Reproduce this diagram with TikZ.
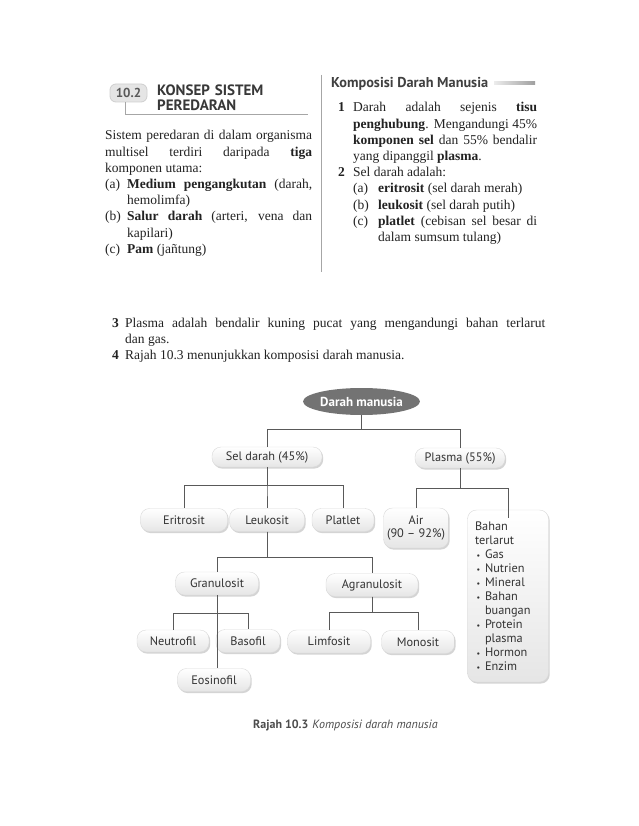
\documentclass[tikz,border=0pt]{standalone}
\usepackage{fontspec}
\setmainfont{Liberation Serif}
\newfontfamily\labelfont{PT Sans}
\usepackage{tikz}
\usetikzlibrary{shapes.geometric,shadows,positioning}
\definecolor{pageink}{HTML}{222222}
\definecolor{boxink}{HTML}{333333}
\definecolor{linkgray}{HTML}{595959}
\definecolor{ovalgray}{HTML}{737373}
\newcommand{\bodysize}{\fontsize{13.5}{16.2}\selectfont}
% numbered paragraph with hanging label
\newcommand{\numitem}[3]{\hangindent=#1\hangafter=1\noindent\makebox[#1][l]{#2}#3\par}
% lettered sub item under a numbered one
\newcommand{\subpart}[2]{\hangindent=40pt\hangafter=1\noindent\hspace*{15pt}\makebox[25pt][l]{#1}#2\par}
\newcommand{\blt}{\makebox[10pt][l]{\hspace{1.5pt}{\fontsize{8}{8}\selectfont\textbullet}}}

\begin{document}
\begin{tikzpicture}[x=1pt,y=-1pt,
  body/.style={anchor=base west, inner sep=0pt, align=justify, text=pageink, font=\bodysize},
  head/.style={anchor=base west, inner sep=0pt, align=left, text=black!78,
               font=\labelfont\bfseries\fontsize{15}{15}\selectfont},
  secbox/.style={rounded corners=6pt, fill=gray!20, draw=gray!38, line width=0.8pt,
                 minimum width=37pt, minimum height=18pt, inner sep=0pt, text=black!65,
                 font=\labelfont\bfseries\fontsize{13}{13}\selectfont},
  rule/.style={draw=gray!70, line width=0.8pt},
  oval/.style={ellipse, fill=ovalgray, text=white, minimum width=103pt, minimum height=27pt,
               inner sep=0pt, font=\labelfont\bfseries\fontsize{13}{14}\selectfont},
  pill/.style={rounded corners=9pt, draw=gray!30, top color=white, bottom color=gray!20,
               drop shadow={shadow xshift=1.2pt, shadow yshift=-1.6pt, fill=gray!60, opacity=.55},
               text=boxink, font=\labelfont\fontsize{12.3}{14}\selectfont,
               minimum height=23pt, inner sep=2pt, minimum width=#1},
  link/.style={draw=linkgray, line width=0.8pt}]
\fill[white] (0,0) rectangle (638,826);
\useasboundingbox (0,0) rectangle (638,826);

% left column
\node[secbox] (sec) at (128.5,93) {10.2};
\node[head, text width=160pt] (title) at (157,96) {KONSEP SISTEM\\PEREDARAN};
\coordinate (ruleend) at (308,114);
\draw[rule] ([xshift=-3.5pt]sec.south) |- (ruleend);
\node[body, text width=207pt] (intro) at (105,140) {%
  Sistem peredaran di dalam organisma\linebreak multisel terdiri daripada \textbf{tiga}\linebreak komponen utama:\par
  \numitem{22pt}{(a)}{\textbf{Medium pengangkutan} (darah,\linebreak hemolimfa)}
  \numitem{22pt}{(b)}{\textbf{Salur darah} (arteri, vena dan\linebreak kapilari)}
  \numitem{22pt}{(c)}{\textbf{Pam} (jañtung)}};

% right column
\draw[rule] (321,75) -- (321,272);
\node[anchor=base west, inner sep=0pt, text=black!75,
      font=\labelfont\bfseries\fontsize{14.3}{14}\selectfont] (komp) at (331,88) {Komposisi Darah Manusia};
\shade[left color=gray!15, right color=gray!75] (494,82) rectangle (535,85);
\node[body, text width=199pt] (facts) at (338,112) {%
  \numitem{15pt}{\textbf{1}}{Darah adalah sejenis \textbf{tisu}\linebreak \textbf{penghubung}. Mengandungi 45\%\linebreak \textbf{komponen sel} dan 55\% bendalir\linebreak yang dipanggil \textbf{plasma}.}
  \numitem{15pt}{\textbf{2}}{Sel darah adalah:}
  \subpart{(a)}{\textbf{eritrosit} (sel darah merah)}
  \subpart{(b)}{\textbf{leukosit} (sel darah putih)}
  \subpart{(c)}{\textbf{platlet} (cebisan sel besar di\linebreak dalam sumsum tulang)}};

% full width notes
\node[body, text width=433pt] (notes) at (112,327) {%
  \numitem{13pt}{\textbf{3}}{Plasma adalah bendalir kuning pucat yang mengandungi bahan terlarut\linebreak dan gas.}
  \numitem{13pt}{\textbf{4}}{Rajah 10.3 menunjukkan komposisi darah manusia.}};

% diagram
\node[oval] (darah) at (361.5,401.5) {Darah manusia};
\node[pill=110pt, minimum height=20pt] (sel) at (267,457) {Sel darah (45\%)};
\node[pill=90pt, minimum height=20pt] (plasma) at (460,458) {Plasma (55\%)};
\node[pill=87pt] (eri) at (184,520) {Eritrosit};
\node[pill=75pt] (leu) at (267,520) {Leukosit};
\node[pill=62pt] (pla) at (343,520) {Platlet};
\node[pill=65pt, minimum height=40pt, align=center, font=\labelfont\fontsize{12.3}{13}\selectfont] (air) at (416,528) {Air\\(90 – 92\%)};
\node[pill=81pt, minimum height=172pt, align=left, text width=66pt] (bahan) at (508,596) {%
  Bahan\\terlarut\\\blt Gas\\\blt Nutrien\\\blt Mineral\\\blt Bahan\\\hspace*{10pt}buangan\\
  \blt Protein\\\hspace*{10pt}plasma\\\blt Hormon\\\blt Enzim};
\node[pill=83pt] (gra) at (217,583.5) {Granulosit};
\node[pill=92pt] (agr) at (372,585) {Agranulosit};
\node[pill=72pt, minimum height=22pt] (neu) at (173,641) {Neutrofil};
\node[pill=64pt] (bas) at (248,641) {Basofil};
\node[pill=73pt] (eos) at (214,680) {Eosinofil};
\node[pill=83pt] (lim) at (329,641.5) {Limfosit};
\node[pill=73pt] (mon) at (418,642) {Monosit};

\draw[link] (darah.south) -- ++(0,14) -| (sel.north);
\draw[link] (darah.south) -- ++(0,14) -| (plasma.north);
\draw[link] (sel.south) -- ++(0,18) -| (eri.north);
\draw[link] (sel.south) -- ++(0,18) -| (leu.north);
\draw[link] (sel.south) -- ++(0,18) -| (pla.north);
\draw[link] (plasma.south) -- ++(0,20) -| (air.north);
\draw[link] (plasma.south) -- ++(0,20) -| ([yshift=-8pt]bahan.north);
\draw[link] (leu.south) -- ++(0,26) -| (gra.north);
\draw[link] (leu.south) -- ++(0,26) -| (agr.north);
\draw[link] (gra.south) -- ++(0,18) -| (neu.north);
\draw[link] (gra.south) -- ++(0,18) -| (bas.north);
\draw[link] (gra.south) -- (gra.south |- eos.north);
\draw[link] (agr.south) -- ++(0,16) -| (lim.north);
\draw[link] (agr.south) -- ++(0,16) -| (mon.north);

\node[anchor=base west, inner sep=0pt, text=black!70, font=\labelfont\fontsize{12}{12}\selectfont]
  (cap) at (253,728) {\textbf{Rajah 10.3}\hspace{4pt}\textit{Komposisi darah manusia}};
\end{tikzpicture}
\end{document}
